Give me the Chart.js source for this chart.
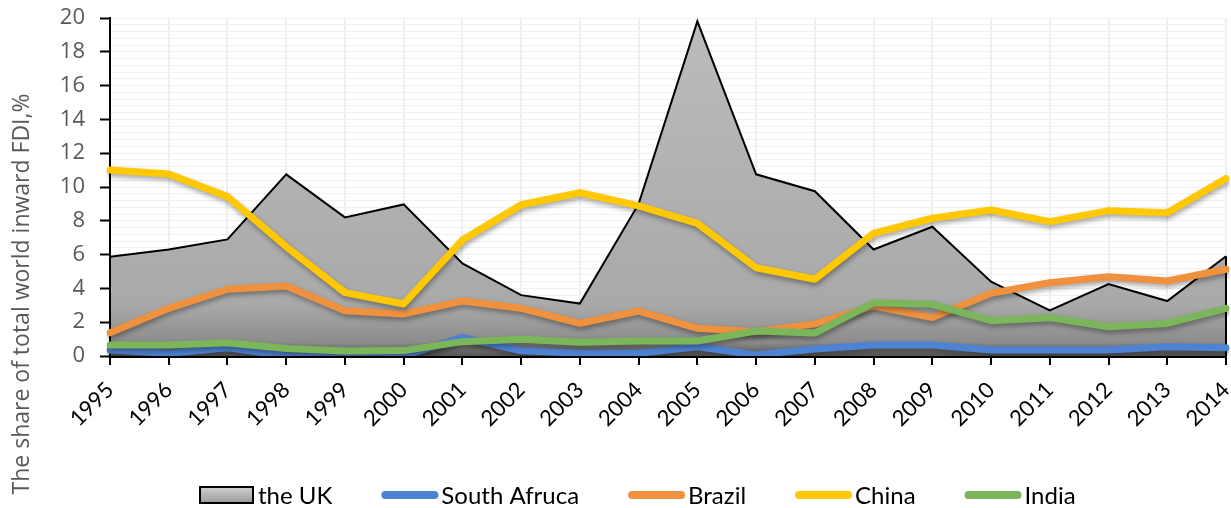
<!DOCTYPE html>
<html>
<head>
<meta charset="utf-8">
<script src="https://cdn.jsdelivr.net/npm/chart.js@4/dist/chart.umd.min.js"></script>
<style>
  html, body { margin: 0; padding: 0; background: #fff; }
  #fdiChart { display: block; }
</style>
</head>
<body>
<canvas id="fdiChart" width="1231" height="508"></canvas>
<script>
// share of total world inward FDI, %
const years = ['1995', '1996', '1997', '1998', '1999', '2000', '2001', '2002', '2003', '2004',
    '2005', '2006', '2007', '2008', '2009', '2010', '2011', '2012', '2013', '2014'];

const ukValues = [5.87, 6.3, 6.9, 10.75, 8.2, 8.97, 5.48, 3.6, 3.1, 9.0,
    19.8, 10.75, 9.75, 6.3, 7.65, 4.4, 2.7, 4.26, 3.25, 5.9];
const southAfricaValues = [0.36, 0.16, 0.49, 0.0, 0.0, 0.0, 1.1, 0.31, 0.16, 0.16,
    0.55, 0.06, 0.42, 0.65, 0.65, 0.36, 0.36, 0.36, 0.55, 0.49];
const brazilValues = [1.38, 2.82, 3.95, 4.14, 2.68, 2.49, 3.25, 2.82, 1.93, 2.66,
    1.64, 1.44, 1.9, 2.96, 2.27, 3.71, 4.34, 4.69, 4.44, 5.13];
const chinaValues = [11.0, 10.77, 9.43, 6.47, 3.75, 3.08, 6.86, 8.95, 9.66, 8.88,
    7.85, 5.22, 4.54, 7.26, 8.15, 8.64, 7.95, 8.6, 8.48, 10.5];
const indiaValues = [0.65, 0.65, 0.79, 0.45, 0.3, 0.32, 0.85, 0.99, 0.81, 0.89,
    0.89, 1.48, 1.36, 3.15, 3.06, 2.09, 2.27, 1.73, 1.93, 2.82];

const seriesNames = ['the UK', 'South Afruca', 'Brazil', 'China', 'India'];
const lineColors = ['#000000', '#4e82d2', '#f0913f', '#ffc800', '#7cb65a'];

const yTitle = 'The share of total world inward FDI,%';

function ukGradient(context) {
    const area = context.chart.chartArea;
    if (!area) return '#b0b0b0';
    const g = context.chart.ctx.createLinearGradient(0, area.top, 0, area.bottom);
    g.addColorStop(0, '#bcbcbc');
    g.addColorStop(0.85, '#a9a9a9');
    g.addColorStop(0.96, '#8c8c8c');
    g.addColorStop(1, '#555555');
    return g;
}

const lineDataset = (i, values) => ({
    label: seriesNames[i],
    data: values,
    borderColor: lineColors[i],
    backgroundColor: lineColors[i],
    borderWidth: 7,
    pointRadius: 0,
    tension: 0,
    fill: false,
    borderCapStyle: 'round',
    borderJoinStyle: 'round',
    order: 5 - i
});

// soft drop shadow under the coloured lines
const shadowPlugin = {
    id: 'lineShadow',
    beforeDatasetDraw(chart, args) {
        chart.ctx.save();
        if (args.index > 0) {
            chart.ctx.shadowColor = 'rgba(0,0,0,0.35)';
            chart.ctx.shadowBlur = 5;
            chart.ctx.shadowOffsetX = 1;
            chart.ctx.shadowOffsetY = 3;
        }
    },
    afterDatasetDraw(chart, args) {
        chart.ctx.restore();
        if (args.index !== 0) return;
        // close the UK area with its black edges
        const pts = args.meta.data;
        const y0 = chart.scales.y.getPixelForValue(0);
        const ctx = chart.ctx;
        ctx.save();
        ctx.strokeStyle = '#000';
        ctx.lineWidth = 2;
        [pts[0], pts[pts.length - 1]].forEach(p => {
            ctx.beginPath();
            ctx.moveTo(p.x, p.y);
            ctx.lineTo(p.x, y0);
            ctx.stroke();
        });
        ctx.restore();
    }
};

const titleLegendPlugin = {
    id: 'titleLegend',
    afterDraw(chart) {
        const ctx = chart.ctx;
        ctx.save();
        // y axis title
        ctx.translate(22, 294);
        ctx.rotate(-Math.PI / 2);
        ctx.font = '23px "Open Sans"';
        ctx.fillStyle = '#595959';
        ctx.textAlign = 'center';
        ctx.textBaseline = 'middle';
        ctx.fillText(yTitle, 0, 0);
        ctx.restore();

        // legend
        ctx.save();
        ctx.font = '24px Lato';
        ctx.textBaseline = 'middle';
        ctx.fillStyle = '#000';
        const cy = 495;
        let x = 200;
        seriesNames.forEach((name, i) => {
            if (i === 0) {
                const g = ctx.createLinearGradient(0, cy - 8, 0, cy + 8);
                g.addColorStop(0, '#d0d0d0');
                g.addColorStop(1, '#9a9a9a');
                ctx.fillStyle = g;
                ctx.fillRect(x, cy - 8, 53, 16);
                ctx.strokeStyle = '#000';
                ctx.lineWidth = 2;
                ctx.strokeRect(x, cy - 8, 53, 16);
                x += 58;
            } else {
                ctx.strokeStyle = lineColors[i];
                ctx.lineWidth = 8;
                ctx.lineCap = 'round';
                ctx.beginPath();
                ctx.moveTo(x + 4, cy);
                ctx.lineTo(x + 53, cy);
                ctx.stroke();
                x += 60;
            }
            ctx.fillStyle = '#000';
            ctx.fillText(name, x, cy + 1);
            x += ctx.measureText(name).width + 49;
        });
        ctx.restore();
    }
};

const isMajor = v => Math.abs(v / 2 - Math.round(v / 2)) < 1e-6;

new Chart(document.getElementById('fdiChart'), {
    type: 'line',
    data: {
        labels: years,
        datasets: [
            {
                label: seriesNames[0],
                data: ukValues,
                borderColor: '#000',
                borderWidth: 2,
                backgroundColor: ukGradient,
                fill: 'origin',
                pointRadius: 0,
                tension: 0,
                order: 5
            },
            lineDataset(1, southAfricaValues),
            lineDataset(2, brazilValues),
            lineDataset(3, chinaValues),
            lineDataset(4, indiaValues)
        ]
    },
    options: {
        responsive: false,
        devicePixelRatio: 1,
        animation: false,
        layout: { padding: { top: 18, right: 5, left: 0, bottom: 0 } },
        plugins: {
            legend: { display: false },
            tooltip: { enabled: false }
        },
        scales: {
            x: {
                offset: false,
                grid: {
                    color: '#efefef',
                    lineWidth: 2,
                    tickColor: '#000',
                    tickLength: 9,
                    tickWidth: 2
                },
                border: { display: true, color: '#000', width: 3 },
                ticks: {
                    autoSkip: false,
                    minRotation: 45,
                    maxRotation: 45,
                    padding: 12,
                    color: '#000',
                    font: { family: 'Lato', size: 22 }
                },
                afterFit(scale) {
                    scale.height = 152;
                    scale.paddingLeft = 0;
                    scale.paddingRight = 0;
                }
            },
            y: {
                min: 0,
                max: 20,
                grid: {
                    color: '#f0f0f0',
                    lineWidth: 1,
                    tickColor: ctx => isMajor(ctx.tick.value) ? '#000' : 'rgba(0,0,0,0)',
                    tickLength: 10,
                    tickWidth: 2
                },
                border: { display: true, color: '#000', width: 2 },
                ticks: {
                    stepSize: 0.4,
                    autoSkip: false,
                    padding: 15,
                    color: '#595959',
                    font: { family: 'Open Sans', size: 22 },
                    callback: v => isMajor(v) ? String(Math.round(v)) : ''
                },
                afterFit(scale) {
                    scale.width = 110;
                    scale.paddingTop = 0;
                    scale.paddingBottom = 0;
                }
            }
        }
    },
    plugins: [shadowPlugin, titleLegendPlugin]
});
</script>
</body>
</html>
